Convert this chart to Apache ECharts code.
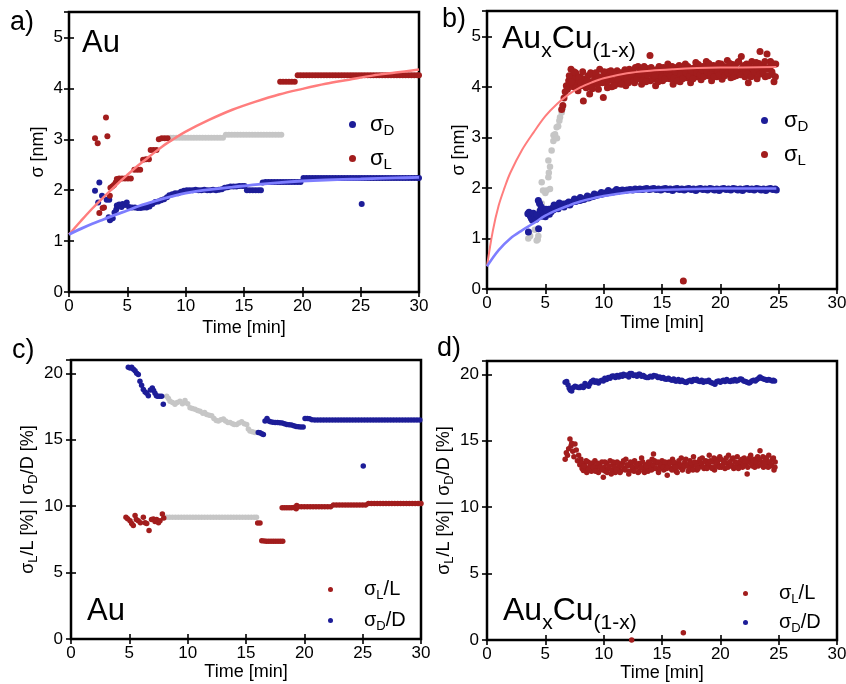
<!DOCTYPE html>
<html><head><meta charset="utf-8">
<script src="https://cdn.jsdelivr.net/npm/echarts@6/dist/echarts.min.js"></script>
<style>html,body{margin:0;padding:0;background:#fff}#c{width:846px;height:684px}</style>
</head><body><div id="c"></div>
<script>
// ---------- Panel a: Au, sigma [nm] vs time [min] ----------
const auSigmaD = [[2.23,1.99],[2.5,1.76],[2.6,2.15],[2.83,1.89],[3.23,1.81],[3.45,1.81],[3.4,1.47],[3.51,1.41],[3.62,1.44],[3.75,1.45],[3.9,1.56],[4.05,1.62],[4.1,1.7],[4.3,1.72],[4.5,1.67],[4.6,1.73],[4.8,1.71],[4.95,1.76],
[5.15,1.67],[5.4,1.66],[5.65,1.66],[5.9,1.65],[6.15,1.65],[6.4,1.66],[6.65,1.66],[6.9,1.68],
[7.15,1.73],[7.4,1.77],[7.65,1.78],[7.9,1.8],[8.15,1.82],[8.4,1.86],[8.6,1.9],[8.85,1.92],[9.1,1.94],[9.35,1.94],
[9.6,1.97],[9.85,1.99],[10.1,2.0],[10.35,2.0],[10.6,2.0],[10.85,2.01],[11.1,2.0],[11.35,2.0],[11.6,2.01],[11.85,2.0],[12.1,2.0],[12.35,2.01],[12.6,2.0],[12.85,2.01],[13.1,2.02],
[13.35,2.05],[13.6,2.06],[13.85,2.07],[14.1,2.07],[14.35,2.07],[14.6,2.08],[14.85,2.08],[15.05,2.08],
[15.25,2.0],[15.5,2.0],[15.75,2.0],[16.0,2.0],[16.25,2.0],[16.45,2.0],
[16.6,2.15],[16.85,2.16],[17.1,2.16],[17.35,2.16],[17.6,2.16],[17.85,2.16],[18.1,2.16],[18.35,2.16],[18.6,2.16],[18.85,2.16],[19.1,2.16],[19.35,2.16],[19.6,2.16],[19.85,2.16],
[20.1,2.24],[20.35,2.24],[20.6,2.24],[20.85,2.24],[21.1,2.24],[21.35,2.24],[21.6,2.24],[21.85,2.24],[22.1,2.24],[22.35,2.24],[22.6,2.24],[22.85,2.24],[23.1,2.24],[23.35,2.24],[23.6,2.24],[23.85,2.24],[24.1,2.24],[24.35,2.24],[24.6,2.24],[24.85,2.24],
[25.1,2.24],[25.35,2.24],[25.6,2.24],[25.85,2.24],[26.1,2.24],[26.35,2.24],[26.6,2.24],[26.85,2.24],[27.1,2.24],[27.35,2.24],[27.6,2.24],[27.85,2.24],[28.1,2.24],[28.35,2.24],[28.6,2.24],[28.85,2.24],[29.1,2.24],[29.35,2.24],[29.6,2.24],[29.85,2.24],[30.0,2.24],
[25.09,1.73]];
const auSigmaL = [[2.23,3.02],[2.46,2.92],[2.6,1.55],[2.88,1.65],[3.0,1.66],[3.17,3.43],[3.29,3.06],[3.5,1.89],[3.55,2.05],[3.7,2.07],[3.85,2.1],[4.0,2.15],[4.1,2.22],[4.3,2.23],[4.55,2.23],[4.8,2.23],[5.05,2.23],[5.3,2.23],[5.6,2.4],[5.85,2.4],[6.1,2.4],[6.35,2.6],[6.6,2.61],[6.85,2.61],[7.0,2.79],[7.25,2.79],[7.5,2.79],[7.7,3.0],[7.95,3.02],[8.2,3.02],[8.45,3.02],
[18.1,4.13],[18.35,4.13],[18.6,4.13],[18.85,4.13],[19.1,4.13],[19.35,4.13],
[19.6,4.26],[19.85,4.26],[20.1,4.26],[20.35,4.26],[20.6,4.26],[20.85,4.26],[21.1,4.26],[21.35,4.26],[21.6,4.26],[21.85,4.26],[22.1,4.26],[22.35,4.26],[22.6,4.26],[22.85,4.26],[23.1,4.26],[23.35,4.26],[23.6,4.26],[23.85,4.26],[24.1,4.26],[24.35,4.26],[24.6,4.26],[24.85,4.26],
[25.1,4.26],[25.35,4.26],[25.6,4.26],[25.85,4.26],[26.1,4.26],[26.35,4.26],[26.6,4.26],[26.85,4.26],[27.1,4.26],[27.35,4.26],[27.6,4.26],[27.85,4.26],[28.1,4.26],[28.35,4.26],[28.6,4.26],[28.85,4.26],[29.1,4.26],[29.35,4.26],[29.6,4.26],[29.85,4.26],[30.0,4.26]];
const auGray = [[8.7,3.03],[8.95,3.03],[9.2,3.03],[9.45,3.03],[9.7,3.03],[9.95,3.03],[10.2,3.03],[10.45,3.03],[10.7,3.03],[10.95,3.03],[11.2,3.03],[11.45,3.03],[11.7,3.03],[11.95,3.03],[12.2,3.03],[12.45,3.03],[12.7,3.03],[12.95,3.03],[13.2,3.03],
[13.45,3.09],[13.7,3.09],[13.95,3.09],[14.2,3.09],[14.45,3.09],[14.7,3.09],[14.95,3.09],[15.2,3.09],[15.45,3.09],[15.7,3.09],[15.95,3.09],[16.2,3.09],[16.45,3.09],[16.7,3.09],[16.95,3.09],[17.2,3.09],[17.45,3.09],[17.7,3.09],[17.95,3.09],[18.2,3.09]];
const auFitL = [[0,1.13],[1,1.39],[2,1.64],[3,1.87],[4,2.09],[5,2.3],[6,2.5],[7,2.68],[8,2.86],[9,3.01],[10,3.15],[12,3.38],[14,3.58],[16,3.74],[18,3.88],[20,3.99],[22,4.09],[24,4.17],[26,4.25],[28,4.31],[30,4.37]];
const auFitD = [[0,1.13],[1,1.24],[2,1.34],[3,1.43],[4,1.52],[5,1.6],[6,1.69],[7,1.76],[8,1.83],[9,1.89],[10,1.94],[11,1.98],[12,2.01],[14,2.06],[16,2.11],[18,2.15],[20,2.18],[22,2.2],[25,2.22],[28,2.24],[30,2.25]];

// ---------- Panel b: AuxCu(1-x), sigma [nm] vs time [min] ----------
const alloySigmaD = [[3.5,1.49],[3.55,1.13],[3.6,1.52],[3.7,1.45],[3.8,1.4],[3.9,1.36],[3.97,1.5],[4.1,1.42],[4.2,1.38],[4.3,1.47],[4.4,1.75],[4.42,1.19],[4.5,1.69],[4.55,1.55],[4.6,1.5],[4.7,1.44],[4.8,1.52],[4.9,1.48],[5.0,1.43],[5.1,1.55],[5.2,1.5],[5.3,1.58],[5.4,1.56],[5.5,1.53],[5.6,1.6],[5.7,1.57],[5.85,1.62],[5.97,1.62],[6.1,1.59],[6.25,1.66],[6.4,1.64],[6.55,1.68],[6.7,1.66],[6.83,1.69],[7.0,1.72],[7.15,1.7],[7.3,1.72],[7.45,1.74],[7.6,1.73],[7.8,1.76],[7.97,1.75],[8.15,1.78],[8.3,1.77],[8.5,1.8],[8.7,1.8],[8.9,1.82],[9.1,1.83],[9.3,1.85],[9.5,1.86],[9.7,1.87],[9.9,1.88],
[10.1,1.9],[10.3,1.9],[10.5,1.92],[10.8,1.92],[11.0,1.94],[11.2,1.93],[11.4,1.95],[11.6,1.96],[11.8,1.95],[12.0,1.96],[12.26,1.97],[12.5,1.96],[12.7,1.98],[12.9,1.97],[13.1,1.98],[13.3,1.97],[13.5,1.98],[13.7,1.99],[13.9,1.97],[14.1,1.98],[14.3,1.99],[14.5,1.97],[14.7,1.98],[14.9,1.96],[15.1,1.98],[15.3,1.99],[15.5,1.97],[15.7,1.98],[15.9,1.95],[16.1,1.98],[16.3,1.99],[16.5,1.97],[16.7,1.98],[16.9,1.96],[17.1,1.98],[17.3,1.99],[17.5,1.97],[17.7,1.98],[17.9,1.95],[18.1,1.98],[18.3,1.99],[18.5,1.97],[18.7,1.98],[18.9,1.96],[19.1,1.99],[19.3,1.98],[19.5,1.96],[19.7,1.98],[19.9,1.95],
[20.1,1.98],[20.3,1.99],[20.5,1.97],[20.7,1.98],[20.9,1.96],[21.1,1.99],[21.3,1.98],[21.5,1.96],[21.7,1.98],[21.9,1.95],[22.1,1.98],[22.3,1.99],[22.5,1.97],[22.7,1.98],[22.9,1.96],[23.1,1.99],[23.3,1.98],[23.5,1.96],[23.7,1.98],[23.9,1.95],[24.1,1.98],[24.3,1.99],[24.5,1.97],[24.7,1.98],[24.8,1.96],
[4.65,1.62],[5.05,1.58],[5.35,1.48],[5.75,1.66],[6.2,1.7],[6.6,1.62],[7.1,1.66],[7.5,1.78],[8.0,1.81],[8.6,1.84],[9.2,1.88],[9.8,1.91],[10.4,1.95],[11.1,1.97]];
const alloySigmaL = [[6.4,3.55],[6.5,3.63],[6.6,3.78],[6.7,3.9],[6.8,4.02],[6.9,3.95],[7.0,4.12],[7.1,4.05],[7.2,4.35],[7.3,4.22],[7.4,4.0],[7.5,4.15],[7.6,4.28],[7.7,4.06],[7.8,3.92],[7.9,4.12],[8.0,4.2],[8.1,4.02],[8.26,3.72],[8.35,4.15],[8.5,3.98],[8.65,4.22],[8.8,3.86],[8.95,4.1],[9.1,4.24],[9.25,4.05],[9.4,4.16],[9.55,3.95],[9.66,4.35],[9.8,4.12],[9.97,3.79],
[10.1,4.22],[10.25,4.08],[10.4,4.3],[10.55,4.15],[10.7,4.0],[10.85,4.25],[11.0,4.12],[11.15,4.32],[11.3,4.06],[11.45,4.2],[11.6,4.28],[11.75,4.1],[11.9,4.02],[12.05,4.24],[12.2,4.35],[12.35,4.15],[12.5,4.3],[12.65,4.08],[12.8,4.22],[12.95,4.4],[13.1,4.18],[13.25,4.05],[13.4,4.28],[13.55,4.2],[13.7,4.36],[13.97,4.62],[14.0,4.12],[14.15,4.25],[14.3,4.32],[14.45,4.02],[14.6,4.18],[14.75,4.4],[14.9,4.26],
[15.05,4.12],[15.2,4.3],[15.35,4.22],[15.5,4.45],[15.65,4.16],[15.8,4.32],[15.95,4.05],[16.1,4.26],[16.25,4.38],[16.4,4.2],[16.55,4.1],[16.7,4.34],[16.85,4.24],[17.0,4.45],[17.15,4.18],[17.3,4.3],[17.45,4.08],[17.6,4.36],[17.75,4.25],[17.9,4.48],[18.05,4.2],[18.2,4.32],[18.35,4.14],[18.5,4.4],[18.65,4.28],[18.8,4.5],[18.95,4.22],[19.1,4.35],[19.25,4.12],[19.4,4.42],[19.55,4.3],[19.7,4.2],[19.85,4.46],
[20.0,4.34],[20.15,4.15],[20.3,4.4],[20.45,4.26],[20.6,4.52],[20.75,4.3],[20.9,4.18],[21.05,4.44],[21.2,4.35],[21.35,4.22],[21.5,4.48],[21.65,4.3],[21.8,4.6],[21.95,4.38],[22.1,4.2],[22.25,4.45],[22.4,4.08],[22.55,4.34],[22.7,4.5],[22.85,4.25],[23.0,4.4],[23.15,4.16],[23.3,4.46],[23.4,4.7],[23.55,4.3],[23.7,4.42],[23.85,4.2],[24.0,4.65],[24.15,4.36],[24.3,4.5],[24.45,4.25],[24.6,4.1],[24.75,4.45],
[7.05,4.22],[7.25,4.1],[7.45,4.3],[7.65,3.98],[7.85,4.18],[8.05,4.08],[8.2,4.3],[8.42,4.05],[8.58,4.12],[8.72,4.0],[8.88,4.28],[9.02,3.96],[9.18,4.12],[9.32,4.28],[9.48,4.05],[9.62,4.2],[9.88,4.08],[10.03,4.3],
[10.17,4.18],[10.32,3.98],[10.47,4.22],[10.62,4.32],[10.77,4.12],[10.92,4.02],[11.07,4.26],[11.22,4.15],[11.37,4.28],[11.52,4.05],[11.67,4.22],[11.82,4.34],[11.97,4.16],[12.12,4.08],[12.27,4.28],[12.42,4.22],[12.57,4.12],[12.72,4.38],[12.87,4.16],[13.02,4.26],[13.17,4.32],[13.32,4.12],[13.47,4.4],[13.62,4.1],[13.77,4.24],[13.92,4.3],[14.07,4.38],[14.22,4.15],[14.37,4.22],[14.52,4.34],[14.67,4.1],[14.82,4.3],[14.97,4.2],
[15.12,4.38],[15.27,4.16],[15.42,4.28],[15.57,4.34],[15.72,4.22],[15.87,4.4],[16.02,4.18],[16.17,4.3],[16.32,4.12],[16.47,4.42],[16.62,4.26],[16.77,4.16],[16.92,4.36],[17.07,4.28],[17.22,4.4],[17.37,4.22],[17.52,4.32],[17.67,4.16],[17.82,4.38],[17.97,4.28],[18.12,4.44],[18.27,4.24],[18.42,4.34],[18.57,4.2],[18.72,4.38],[18.87,4.3],[19.02,4.46],[19.17,4.25],[19.32,4.36],[19.47,4.2],[19.62,4.4],[19.77,4.32],[19.92,4.24],
[20.07,4.45],[20.22,4.3],[20.37,4.22],[20.52,4.38],[20.67,4.28],[20.82,4.46],[20.97,4.32],[21.12,4.2],[21.27,4.4],[21.42,4.3],[21.57,4.5],[21.72,4.24],[21.87,4.36],[22.02,4.42],[22.17,4.3],[22.32,4.26],[22.47,4.4],[22.62,4.2],[22.77,4.36],[22.92,4.3],[23.07,4.48],[23.22,4.34],[23.37,4.25],[23.52,4.42],[23.67,4.3],[23.82,4.5],[23.97,4.35],[24.12,4.22],[24.27,4.4],[24.42,4.3],[24.57,4.45],[24.72,4.2],
[16.83,0.16]];
const alloyGray = [[3.54,1.0],[3.7,1.05],[4.1,1.17],[4.26,0.96],[4.35,0.98],[4.4,1.05],[4.69,1.69],[4.69,2.11],[4.8,1.95],[5.0,1.9],[5.1,1.95],[5.26,2.21],[5.3,2.3],[5.4,1.98],[5.4,2.42],[5.26,2.54],[5.54,2.74],[5.69,2.93],[5.7,3.04],[5.83,3.06],[5.97,3.2],[6.0,2.98],[6.1,3.22],[6.2,3.33],[6.26,3.4],[6.4,3.49],[6.5,3.58]];
const alloyFitL = [[0,0.45],[0.5,1.15],[1,1.65],[1.5,2.0],[2,2.3],[3,2.75],[4,3.1],[5,3.42],[6,3.66],[7,3.85],[8,3.99],[9,4.09],[10,4.17],[12,4.27],[14,4.32],[16,4.35],[18,4.37],[20,4.38],[24.8,4.39]];
const alloyFitD = [[0,0.45],[1,0.77],[2,1.0],[3,1.16],[4,1.3],[5,1.45],[6,1.56],[7,1.65],[8,1.73],[9,1.79],[10,1.84],[12,1.91],[14,1.95],[16,1.97],[20,1.99],[24.8,1.99]];

// ---------- Panel c: Au, relative widths [%] ----------
const auRelL = [[4.71,9.16],[4.85,9.05],[5.06,8.9],[5.2,8.7],[5.34,8.54],[5.49,9.29],[5.6,9.0],[5.77,8.9],[5.95,8.75],[6.2,9.16],[6.35,8.75],[6.49,8.7],[6.69,8.16],[6.9,9.0],[7.06,9.03],[7.2,8.85],[7.34,9.0],[7.5,8.75],[7.63,8.9],[7.83,9.4],[7.95,9.1],
[16.0,8.74],[16.2,8.74],
[16.35,7.4],[16.55,7.38],[16.75,7.36],[16.95,7.36],[17.15,7.36],[17.35,7.36],[17.55,7.36],[17.75,7.36],[17.95,7.36],[18.15,7.36],
[18.1,9.88],[18.3,9.88],[18.5,9.88],[18.7,9.88],[18.9,9.88],[19.1,9.9],[19.3,9.8],[19.35,10.05],[19.5,9.95],[19.75,9.96],[20.0,9.96],[20.25,9.96],[20.5,9.96],[20.75,9.96],[21.0,9.96],[21.25,9.96],[21.5,9.96],[21.75,9.96],[22.0,9.96],[22.25,9.96],
[22.5,10.08],[22.75,10.08],[23.0,10.08],[23.25,10.08],[23.5,10.08],[23.75,10.08],[24.0,10.08],[24.25,10.08],[24.5,10.08],[24.75,10.08],[25.0,10.08],[25.25,10.08],
[25.5,10.2],[25.75,10.2],[26.0,10.2],[26.25,10.2],[26.5,10.2],[26.75,10.2],[27.0,10.2],[27.25,10.2],[27.5,10.2],[27.75,10.2],[28.0,10.2],[28.25,10.2],[28.5,10.2],[28.75,10.2],[29.0,10.2],[29.25,10.2],[29.5,10.2],[29.75,10.2],[30.0,10.2]];
const auRelD = [[4.91,20.45],[5.06,20.4],[5.2,20.45],[5.35,20.3],[5.49,20.2],[5.63,20.0],[5.77,19.9],[5.91,19.4],[6.05,19.1],[6.2,18.78],[6.35,18.6],[6.49,18.5],[6.63,18.3],[6.8,18.75],[6.97,18.9],[7.08,18.7],[7.2,18.5],[7.32,18.3],[7.43,18.28],[7.6,18.28],[7.77,18.28],[7.91,17.66],
[16.05,15.55],[16.2,15.53],[16.35,15.45],[16.49,15.4],
[16.63,16.4],[16.8,16.6],[16.95,16.4],[17.1,16.35],[17.3,16.32],[17.5,16.3],[17.7,16.3],[17.9,16.28],[18.1,16.25],[18.3,16.2],[18.5,16.15],[18.7,16.12],[18.9,16.1],[19.1,16.05],[19.3,16.0],[19.5,15.98],[19.7,15.96],[19.9,15.96],
[20.06,16.6],[20.25,16.6],[20.45,16.58],[20.65,16.5],[20.9,16.48],[21.15,16.48],[21.4,16.48],[21.65,16.48],[21.9,16.48],[22.15,16.48],[22.4,16.48],[22.65,16.48],[22.9,16.48],[23.15,16.48],[23.4,16.48],[23.65,16.48],[23.9,16.48],[24.15,16.48],[24.4,16.48],[24.65,16.48],[24.9,16.48],
[25.15,16.48],[25.4,16.48],[25.65,16.48],[25.9,16.48],[26.15,16.48],[26.4,16.48],[26.65,16.48],[26.9,16.48],[27.15,16.48],[27.4,16.48],[27.65,16.48],[27.9,16.48],[28.15,16.48],[28.4,16.48],[28.65,16.48],[28.9,16.48],[29.15,16.48],[29.4,16.48],[29.65,16.48],[29.9,16.48],
[25.05,13.03]];
const auRelGray = [[8.2,18.28],[8.35,18.1],[8.49,17.9],[8.7,17.8],[8.91,17.66],[9.1,17.8],[9.34,17.9],[9.55,17.7],[9.77,17.95],[10.0,17.7],[10.2,17.4],[10.4,17.35],[10.63,17.3],[10.85,17.2],[11.06,17.15],[11.3,17.0],[11.45,17.05],[11.63,16.9],[11.85,16.85],[12.06,16.8],[12.25,16.6],[12.45,16.45],[12.63,16.4],[12.85,16.5],[13.06,16.55],[13.25,16.4],[13.45,16.3],[13.63,16.3],[13.85,16.2],[14.0,16.15],[14.2,16.15],[14.4,16.25],[14.63,16.35],[14.85,16.2],[15.06,16.15],[15.2,15.8],[15.34,15.66],[15.55,15.6],[15.77,15.55],
[8.2,9.16],[8.45,9.16],[8.7,9.16],[8.95,9.16],[9.2,9.16],[9.45,9.16],[9.7,9.16],[9.95,9.16],[10.2,9.16],[10.45,9.16],[10.7,9.16],[10.95,9.16],[11.2,9.16],[11.45,9.16],[11.7,9.16],[11.95,9.16],[12.2,9.16],[12.45,9.16],[12.7,9.16],[12.95,9.16],[13.2,9.16],[13.45,9.16],[13.7,9.16],[13.95,9.16],[14.2,9.16],[14.45,9.16],[14.7,9.16],[14.95,9.16],[15.2,9.16],[15.45,9.16],[15.7,9.16],[15.9,9.16]];

// ---------- Panel d: AuxCu(1-x), relative widths [%] ----------
const alloyRelL = [[6.7,13.6],[6.8,14.1],[6.9,13.9],[7.0,14.4],[7.11,15.13],[7.2,14.6],[7.26,14.8],[7.35,14.2],[7.45,13.8],[7.54,14.75],[7.65,14.3],[7.75,13.5],[7.85,13.9],[7.95,13.2],[8.05,13.6],[8.15,12.9],[8.26,12.75],[8.35,13.3],[8.45,13.0],[8.55,12.6],[8.65,13.4],[8.75,12.9],[8.85,13.1],[8.95,12.7],[9.05,13.3],[9.15,12.9],[9.25,13.5],[9.35,12.8],[9.45,13.1],[9.55,12.6],[9.65,13.2],[9.75,12.9],[9.85,13.4],[9.97,12.25],
[10.05,13.0],[10.15,12.7],[10.25,13.3],[10.4,12.9],[10.55,13.5],[10.7,12.8],[10.85,13.2],[11.0,12.6],[11.15,13.4],[11.3,13.0],[11.45,12.7],[11.6,13.3],[11.75,12.9],[11.9,13.6],[12.05,13.1],[12.2,12.7],[12.35,13.2],[12.5,12.9],[12.65,13.5],[12.8,13.0],[12.95,12.6],[13.1,13.3],[13.25,13.7],[13.4,12.9],[13.55,13.2],[13.7,12.8],[13.85,13.4],[14.0,13.0],[14.15,13.6],[14.27,14.0],[14.4,12.9],[14.55,13.3],[14.7,12.6],[14.85,13.1],
[15.0,13.5],[15.15,12.8],[15.3,13.2],[15.45,12.4],[15.6,13.4],[15.75,12.9],[15.9,13.6],[16.05,13.1],[16.2,12.7],[16.35,13.3],[16.5,13.0],[16.65,13.7],[16.8,12.9],[16.95,13.4],[17.1,13.1],[17.25,12.7],[17.4,13.5],[17.55,13.0],[17.7,13.8],[17.85,13.2],[18.0,12.8],[18.15,13.4],[18.3,13.1],[18.45,13.7],[18.6,12.9],[18.75,13.5],[18.9,13.2],[19.05,13.9],[19.2,13.0],[19.35,13.4],[19.5,12.8],[19.65,13.6],[19.8,13.2],[19.95,13.8],
[20.1,13.0],[20.25,13.5],[20.4,12.9],[20.55,13.3],[20.7,13.9],[20.85,13.1],[21.0,13.6],[21.15,12.9],[21.3,13.4],[21.45,13.8],[21.6,13.1],[21.75,13.5],[21.9,13.0],[22.05,13.7],[22.2,13.2],[22.3,12.5],[22.45,13.4],[22.6,13.9],[22.75,13.1],[22.9,13.6],[23.05,13.2],[23.2,13.8],[23.4,14.25],[23.55,13.4],[23.7,13.0],[23.85,13.7],[24.0,13.3],[24.15,13.9],[24.3,13.1],[24.45,13.6],[24.6,12.8],[24.7,13.4],
[8.1,13.3],[8.3,13.1],[8.5,13.5],[8.7,12.8],[8.9,13.3],[9.1,13.0],[9.3,12.7],[9.5,13.3],[9.7,13.0],[9.9,12.8],[10.1,13.4],[10.3,12.6],[10.5,13.1],[10.65,12.5],[10.8,13.4],[10.95,13.0],[11.1,12.8],[11.25,13.3],[11.4,12.6],[11.55,13.1],[11.7,13.5],[11.85,12.8],[12.0,13.2],[12.15,12.5],[12.3,13.4],[12.45,13.0],[12.6,12.7],[12.75,13.3],[12.9,13.1],[13.05,12.7],[13.2,13.0],[13.35,13.4],[13.5,12.6],[13.65,13.1],[13.8,12.7],[13.95,13.3],[14.1,12.8],[14.25,13.2],[14.35,13.5],[14.5,12.9],[14.65,13.4],[14.8,12.9],[14.95,13.2],
[15.1,13.0],[15.25,13.4],[15.4,12.9],[15.55,13.1],[15.7,13.3],[15.85,12.8],[16.0,13.4],[16.15,13.0],[16.3,12.6],[16.45,13.5],[16.6,13.2],[16.75,12.8],[16.9,13.1],[17.05,13.6],[17.2,13.2],[17.35,12.9],[17.5,13.3],[17.65,12.8],[17.8,13.4],[17.95,13.1],[18.1,12.9],[18.25,13.6],[18.4,13.3],[18.55,13.0],[18.7,13.4],[18.85,12.9],[19.0,13.3],[19.15,13.5],[19.3,12.9],[19.45,13.7],[19.6,13.1],[19.75,13.4],[19.9,13.0],
[20.05,13.6],[20.2,13.2],[20.35,13.4],[20.5,13.7],[20.65,13.0],[20.8,13.4],[20.95,13.2],[21.1,13.7],[21.25,13.0],[21.4,13.3],[21.55,12.9],[21.7,13.4],[21.85,13.6],[22.0,13.2],[22.15,13.5],[22.35,13.0],[22.5,13.7],[22.65,13.3],[22.8,13.5],[22.95,13.0],[23.1,13.4],[23.25,13.1],[23.35,13.6],[23.5,13.2],[23.65,13.8],[23.8,13.3],[23.95,13.6],[24.1,13.0],[24.25,13.4],[24.4,13.2],[24.55,13.7],[24.68,13.0],
[12.4,0.0],[16.83,0.55]];
const alloyRelD = [[6.7,19.4],[6.83,19.45],[6.95,19.2],[7.05,18.95],[7.15,18.8],[7.26,18.75],[7.4,19.0],[7.55,19.1],[7.7,19.05],[7.85,19.0],[7.97,19.0],[8.1,19.1],[8.26,19.0],[8.4,19.3],[8.55,19.15],[8.71,19.1],[8.83,19.3],[8.95,19.45],[9.11,19.56],[9.25,19.4],[9.4,19.5],[9.55,19.35],[9.7,19.5],[9.85,19.55],[9.97,19.5],
[10.1,19.7],[10.25,19.6],[10.4,19.75],[10.55,19.7],[10.7,19.85],[10.83,19.88],[11.0,19.75],[11.15,19.9],[11.3,19.8],[11.45,19.95],[11.6,19.85],[11.7,20.0],[11.85,19.9],[12.0,19.95],[12.15,19.8],[12.25,20.05],[12.4,20.05],[12.55,19.9],[12.7,19.95],[12.85,19.85],[13.0,20.0],[13.1,20.0],[13.25,19.85],[13.4,19.9],[13.55,19.8],[13.7,19.75],[13.83,19.75],[14.0,19.85],[14.15,19.8],[14.3,19.9],[14.5,19.88],[14.65,19.75],[14.8,19.8],[14.95,19.7],
[15.1,19.75],[15.25,19.65],[15.4,19.63],[15.55,19.7],[15.7,19.6],[15.85,19.55],[16.0,19.65],[16.15,19.5],[16.26,19.5],[16.4,19.6],[16.55,19.45],[16.7,19.55],[16.85,19.45],[17.0,19.4],[17.1,19.38],[17.25,19.5],[17.4,19.55],[17.55,19.45],[17.7,19.6],[17.85,19.55],[17.97,19.63],[18.1,19.5],[18.25,19.45],[18.4,19.55],[18.55,19.4],[18.7,19.5],[18.83,19.45],[19.0,19.55],[19.15,19.4],[19.3,19.35],[19.45,19.3],[19.54,19.25],[19.7,19.45],[19.85,19.5],
[20.0,19.4],[20.15,19.5],[20.26,19.56],[20.4,19.45],[20.55,19.6],[20.7,19.5],[20.85,19.45],[21.0,19.55],[21.1,19.5],[21.25,19.6],[21.4,19.5],[21.55,19.55],[21.7,19.65],[21.83,19.63],[22.0,19.5],[22.15,19.45],[22.3,19.4],[22.45,19.35],[22.54,19.38],[22.7,19.5],[22.85,19.55],[23.0,19.5],[23.15,19.6],[23.3,19.7],[23.4,19.8],[23.55,19.7],[23.7,19.65],[23.85,19.6],[24.0,19.55],[24.15,19.6],[24.3,19.55],[24.45,19.5],[24.54,19.56],[24.65,19.5]];

// ---------- axis settings ----------
const xTicks = {min: 0, max: 30, interval: 5};
const yTicksNm = {min: 0, max: 5.5, interval: 1};
const yTicksPct = {min: 0, max: 21, interval: 5};

const FONT = "'Liberation Sans', Arial, Helvetica, sans-serif";
const RED = '#a21d1d', BLUE = '#1d1d98', GRAY = '#c6c6c6', FIT_RED = '#ff7d7d', FIT_BLUE = '#7e7eff';

const gridBoxes = [
  {left: 69, top: 12, width: 350, height: 280},
  {left: 487, top: 11, width: 350, height: 278},
  {left: 71, top: 360, width: 350, height: 279},
  {left: 487, top: 361, width: 350, height: 279}
];
const xNameGap = [27, 25, 20, 17];
const yNameGap = [22, 19, 21, 22];

const tick = {inside: true, length: 5, lineStyle: {color: '#000', width: 1.6}};
const lbl = {fontFamily: FONT, fontSize: 17, color: '#000', fontWeight: 'normal'};

const relRich = {
  m: {fontFamily: FONT, fontSize: 18, color: '#000', fontWeight: 'normal', lineHeight: 22},
  s: {fontFamily: FONT, fontSize: 13, color: '#000', fontWeight: 'normal', lineHeight: 22, padding: [12, 0, 0, 0]}
};
const relName = '{m|σ}{s|L}{m|/L [%] | σ}{s|D}{m|/D [%]}';

const xAxis = [], yAxis = [];
gridBoxes.forEach((g, k) => {
  xAxis.push(Object.assign({type: 'value', gridIndex: k, position: 'bottom',
    name: 'Time [min]', nameLocation: 'middle', nameGap: xNameGap[k],
    nameTextStyle: {fontFamily: FONT, fontSize: 18, color: '#000', fontWeight: 'normal'},
    axisLine: {show: false}, axisTick: tick,
    axisLabel: Object.assign({margin: 6}, lbl), splitLine: {show: false}}, xTicks));
  xAxis.push(Object.assign({type: 'value', gridIndex: k, position: 'top',
    axisLine: {show: false}, axisTick: tick, axisLabel: {show: false}, splitLine: {show: false}}, xTicks));
  const yt = k < 2 ? yTicksNm : yTicksPct;
  yAxis.push(Object.assign({type: 'value', gridIndex: k, position: 'left',
    name: k < 2 ? 'σ [nm]' : relName, nameLocation: 'middle', nameRotate: 90, nameGap: yNameGap[k],
    nameTextStyle: k < 2 ? {fontFamily: FONT, fontSize: 18, color: '#000', fontWeight: 'normal'} : {fontFamily: FONT, color: '#000', fontWeight: 'normal', rich: relRich},
    axisLine: {show: false}, axisTick: tick,
    axisLabel: Object.assign({margin: k < 2 ? 6 : 8, showMaxLabel: false}, lbl), splitLine: {show: false}}, yt));
  yAxis.push(Object.assign({type: 'value', gridIndex: k, position: 'right',
    axisLine: {show: false}, axisTick: tick, axisLabel: {show: false}, splitLine: {show: false}}, yt));
});

function scatter(name, k, data, color, size) {
  return {type: 'scatter', name: name, xAxisIndex: 2 * k, yAxisIndex: 2 * k, data: data,
    symbol: 'circle', symbolSize: size, itemStyle: {color: color, opacity: 1}, z: 2, silent: true};
}
function fit(k, data, color, width) {
  return {type: 'line', xAxisIndex: 2 * k, yAxisIndex: 2 * k, data: data, smooth: 0.35,
    symbol: 'none', showSymbol: false, lineStyle: {color: color, width: width}, z: 3, silent: true};
}

const series = [
  scatter('grayA', 0, auGray, GRAY, 6),
  scatter('aD', 0, auSigmaD, BLUE, 6),
  scatter('aL', 0, auSigmaL, RED, 6),
  fit(0, auFitL, FIT_RED, 2.5),
  fit(0, auFitD, FIT_BLUE, 2.8),
  scatter('grayB', 1, alloyGray, GRAY, 6.5),
  scatter('bD', 1, alloySigmaD, BLUE, 7),
  scatter('bL', 1, alloySigmaL, RED, 7),
  fit(1, alloyFitL, FIT_RED, 2),
  fit(1, alloyFitD, FIT_BLUE, 2.5),
  scatter('grayC', 2, auRelGray, GRAY, 5.5),
  scatter('cL', 2, auRelL, RED, 5.5),
  scatter('cD', 2, auRelD, BLUE, 5.5),
  scatter('dL', 3, alloyRelL, RED, 5.5),
  scatter('dD', 3, alloyRelD, BLUE, 5.5)
];

const legendText = {
  aD: '{g| }{m|σ}{s|D}', aL: '{g| }{m|σ}{s|L}',
  bD: '{h| }{m|σ}{s|D}', bL: '{h| }{m|σ}{s|L}',
  cL: '{w| }{n|σ}{t|L}{n|/L}', cD: '{w| }{n|σ}{t|D}{n|/D}',
  dL: '{w| }{n|σ}{t|L}{n|/L}', dD: '{w| }{n|σ}{t|D}{n|/D}'
};
const legRich = {
  g: {width: 9}, h: {width: 11}, w: {width: 26},
  m: {fontFamily: FONT, fontSize: 22, color: '#000', fontWeight: 'normal', lineHeight: 24},
  s: {fontFamily: FONT, fontSize: 15, color: '#000', fontWeight: 'normal', lineHeight: 24, padding: [12, 0, 0, 0]},
  n: {fontFamily: FONT, fontSize: 20, color: '#000', fontWeight: 'normal', lineHeight: 22},
  t: {fontFamily: FONT, fontSize: 13, color: '#000', fontWeight: 'normal', lineHeight: 22, padding: [12, 0, 0, 0]}
};
function legend(names, left, top, gap, size) {
  return {data: names, orient: 'vertical', left: left, top: top, itemGap: gap, padding: 0,
    icon: 'circle', itemWidth: size, itemHeight: size, selectedMode: false,
    formatter: n => legendText[n], textStyle: {fontFamily: FONT, color: '#000', rich: legRich}};
}

const titleRich = {
  m: {fontFamily: FONT, fontSize: 32, fill: '#000', lineHeight: 40},
  s: {fontFamily: FONT, fontSize: 21, fill: '#000', lineHeight: 40, padding: [24, 0, 0, 0]}
};
function txt(x, y, text, size) {
  return {type: 'text', x: x, y: y, silent: true,
    style: {text: text, fontFamily: FONT, fontSize: size, fill: '#000', verticalAlign: 'middle', align: 'left'}};
}
function richTxt(x, y, text) {
  return {type: 'text', x: x, y: y, silent: true,
    style: {text: text, fontFamily: FONT, fill: '#000', verticalAlign: 'middle', align: 'left', rich: titleRich}};
}

const option = {
  animation: false,
  backgroundColor: '#fff',
  grid: gridBoxes.map(g => Object.assign({show: true, borderColor: '#000', borderWidth: 2.5,
    backgroundColor: 'transparent', containLabel: false, outerBoundsMode: 'none'}, g)),
  xAxis: xAxis,
  yAxis: yAxis,
  legend: [
    legend(['aD', 'aL'], 349, 111, 7, 7),
    legend(['bD', 'bL'], 761, 107, 7, 7),
    legend(['cL', 'cD'], 328, 577, 6, 5),
    legend(['dL', 'dD'], 743, 581, 4, 5)
  ],
  graphic: [
    txt(10, 23, 'a)', 27), txt(442, 20, 'b)', 27), txt(12, 351, 'c)', 27), txt(437, 349, 'd)', 27),
    txt(82, 43, 'Au', 31),
    richTxt(502, 39, '{m|Au}{s|x}{m|Cu}{s|(1-x)}'),
    txt(87, 611, 'Au', 31),
    richTxt(503, 611, '{m|Au}{s|x}{m|Cu}{s|(1-x)}')
  ],
  series: series
};

const chart = echarts.init(document.getElementById('c'), null, {renderer: 'canvas'});
chart.setOption(option);
</script>
</body></html>
